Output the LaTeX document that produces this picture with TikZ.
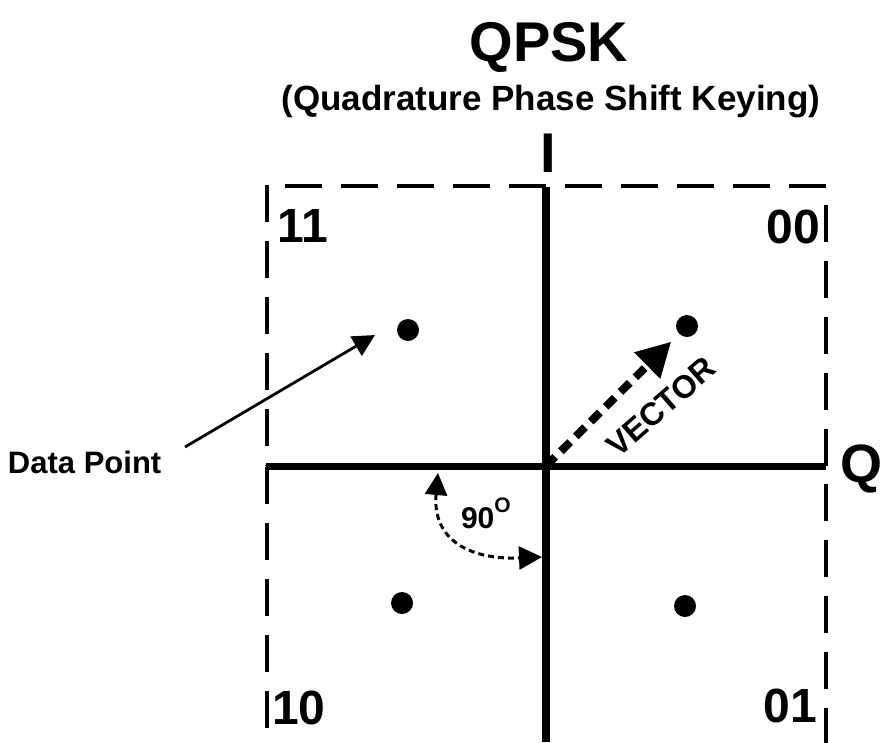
\documentclass[tikz,border=0pt]{standalone}
\usepackage{fontspec}
\setmainfont{Liberation Sans}
\usetikzlibrary{arrows.meta}
\begin{document}
\begin{tikzpicture}[x=1pt,y=-1pt,
  txt/.style={inner sep=0pt, outer sep=0pt},
  quad/.style={txt, font=\bfseries\fontsize{48}{48}\selectfont},
  axis/.style={line width=#1, line cap=butt},
  frame/.style={line width=4.5pt, dash pattern=on 37pt off 19pt},
  dot/.style={circle, fill=black, inner sep=0pt, minimum size=22pt},
  vec/.style={line width=8pt, dash pattern=on 13pt off 8pt,
    -{Triangle[length=34pt,width=35pt]}},
  ptr/.style={line width=2.8pt, -{Triangle[length=22pt,width=22pt]}},
  arcarrow/.style={line width=3pt, dash pattern=on 6pt off 4pt,
    {Triangle[length=22pt,width=22pt]}-{Triangle[length=23pt,width=23pt]}}]
\useasboundingbox (0,0) rectangle (882,742);

% titles
\node[txt, anchor=base, font=\bfseries\fontsize{56}{56}\selectfont] (title) at (549,61) {QPSK};
\node[txt, anchor=base, font=\bfseries\fontsize{35}{35}\selectfont] (subtitle) at (551,110) {(Quadrature Phase Shift Keying)};

% axis labels
\node[txt, anchor=base, font=\bfseries\fontsize{56}{56}\selectfont] (ilab) at (548,172) {I};
\node[txt, anchor=base west, font=\bfseries\fontsize{54}{54}\selectfont] (qlab) at (840,482) {Q};

% dashed frame
\draw[frame] (285,186) -- (826,186);
\draw[frame] (267,185) -- (267,466);
\draw[frame] (267,728) -- (267,466);
\draw[frame] (826,466) -- (826,205);
\draw[frame] (826,745) -- (826,466);

% axes
\coordinate (O) at (546,466);
\draw[axis=8pt] (546,187) -- (546,742);
\draw[axis=7pt] (266,466) -- (826,466);

% quadrant labels
\node[quad, anchor=base west] (l11) at (277,242) {11};
\node[quad, anchor=base east] (l00) at (820,243) {00};
\node[quad, anchor=base west] (l10) at (272,724) {10};
\node[quad, anchor=base east] (l01) at (817,722) {01};

% constellation points
\node[dot] (d11) at (408,330) {};
\node[dot] (d00) at (687,326) {};
\node[dot] (d10) at (402,603) {};
\node[dot] (d01) at (685,606) {};

% phase vector
\draw[vec, shorten >=11pt] (O) -- (d00);
\node[txt, rotate=41, font=\bfseries\fontsize{32}{32}\selectfont] (veclab) at (661,407) {VECTOR};

% data point callout
\node[txt, anchor=base west, font=\bfseries\fontsize{31}{31}\selectfont] (dp) at (8,473) {Data Point};
\coordinate (dpTail) at (185,447);
\coordinate (dpTip) at (375,335);
\draw[ptr] (dpTail) -- (dpTip);

% 90 degree phase step
\coordinate (arcA) at (438,473);
\coordinate (arcB) at (542,557);
\draw[arcarrow] (arcA) .. controls (432,540) and (470,560) .. (arcB);
\node[txt, anchor=base west, font=\bfseries\fontsize{30}{30}\selectfont] (deg) at (461,528)
  {90\raisebox{16pt}{\fontsize{21}{21}\selectfont O}};
\end{tikzpicture}
\end{document}
